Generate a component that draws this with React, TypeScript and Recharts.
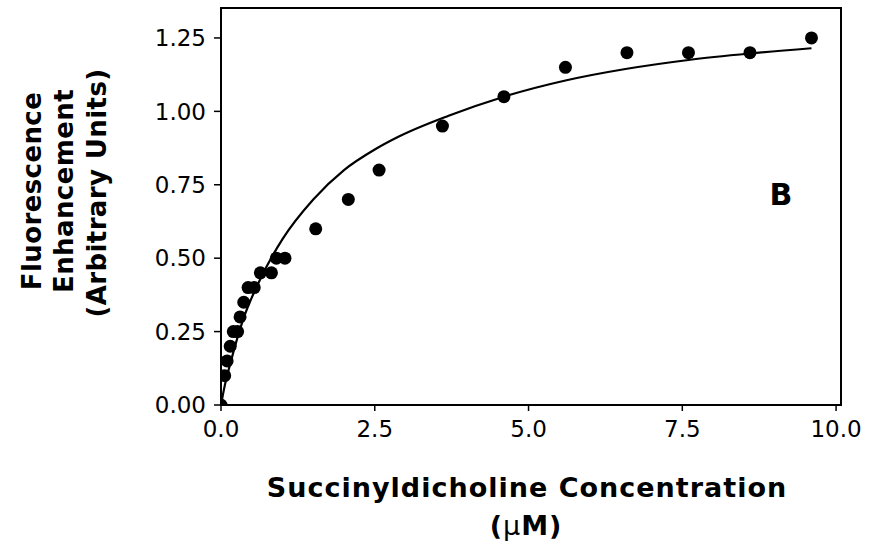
import React from "react";
import {
  ComposedChart,
  Line,
  Scatter,
  XAxis,
  YAxis,
  ReferenceArea,
} from "recharts";

// Measured points
const concentration = [0, 0.06, 0.1, 0.15, 0.2, 0.27, 0.31, 0.37, 0.44, 0.54, 0.64, 0.82, 0.9, 1.04, 1.54, 2.07, 2.57, 3.6, 4.6, 5.6, 6.6, 7.6, 8.6, 9.6];
const enhancement = [0, 0.1, 0.15, 0.2, 0.25, 0.25, 0.3, 0.35, 0.4, 0.4, 0.45, 0.45, 0.5, 0.5, 0.6, 0.7, 0.8, 0.95, 1.05, 1.15, 1.2, 1.2, 1.2, 1.25];

// Fitted curve
const fitX = [0, 0.05, 0.15, 0.35, 0.63, 1.0, 1.5, 2.0, 2.5, 2.9, 3.7, 4.6, 5.6, 6.6, 7.6, 8.6, 9.6];
const fitY = [0, 0.055, 0.14, 0.285, 0.425, 0.565, 0.7, 0.8, 0.87, 0.915, 0.985, 1.05, 1.105, 1.145, 1.175, 1.197, 1.215];

const xTicks = [0, 2.5, 5, 7.5, 10];
const yTicks = [0, 0.25, 0.5, 0.75, 1.0, 1.25];

const X_MAX = 10.08;
const Y_MAX = 1.352;

const points = concentration.map((x, i) => ({ x, y: enhancement[i] }));
const fit = fitX.map((x, i) => ({ x, y: fitY[i] }));

const FONT = "'DejaVu Sans', sans-serif";

const Dot = (p: any) => <circle cx={p.cx} cy={p.cy} r={6.5} fill="#000" />;

const YTitle = () => (
  <g fontFamily={FONT} fontWeight="bold" fontSize={26} fill="#000" letterSpacing={0.4}>
    <text x={41} y={191} textAnchor="middle" transform="rotate(-90, 41, 191)">
      Fluorescence
    </text>
    <text x={73} y={191} textAnchor="middle" transform="rotate(-90, 73, 191)">
      Enhancement
    </text>
    <text x={106} y={193} textAnchor="middle" transform="rotate(-90, 106, 193)">
      (Arbitrary Units)
    </text>
  </g>
);

const XTitle = () => (
  <g fontFamily={FONT} fontWeight="bold" fontSize={27} fill="#000" letterSpacing={1}>
    <text x={527} y={497} textAnchor="middle">
      Succinyldicholine Concentration
    </text>
    <text x={526} y={535} textAnchor="middle">
      (<tspan fontWeight="normal">µ</tspan>M)
    </text>
  </g>
);

export default function App() {
  return (
    <div style={{ position: "absolute", left: 0, top: 0, background: "#fff" }}>
      <ComposedChart
        width={871}
        height={552}
        margin={{ top: 8, right: 30, bottom: 0, left: 0 }}
      >
        <XAxis
          type="number"
          dataKey="x"
          domain={[0, X_MAX]}
          ticks={xTicks}
          tickFormatter={(v: number) => v.toFixed(1)}
          height={147}
          tickSize={6}
          tickMargin={10}
          axisLine={{ stroke: "#000", strokeWidth: 2 }}
          tickLine={{ stroke: "#000", strokeWidth: 1.5 }}
          tick={{ fill: "#000", fontSize: 23, fontFamily: FONT }}
          allowDataOverflow
          label={{ content: () => <XTitle /> }}
        />
        <YAxis
          type="number"
          dataKey="y"
          domain={[0, Y_MAX]}
          ticks={yTicks}
          tickFormatter={(v: number) => v.toFixed(2)}
          width={221}
          tickSize={7}
          tickMargin={8}
          axisLine={{ stroke: "#000", strokeWidth: 2 }}
          tickLine={{ stroke: "#000", strokeWidth: 1.5 }}
          tick={{ fill: "#000", fontSize: 23, fontFamily: FONT }}
          allowDataOverflow
          label={{ content: () => <YTitle /> }}
        />
        <ReferenceArea
          x1={0}
          x2={X_MAX}
          y1={0}
          y2={Y_MAX}
          fill="none"
          stroke="#000"
          strokeWidth={2}
          ifOverflow="visible"
        />
        <Line
          data={fit}
          dataKey="y"
          type="monotone"
          stroke="#000"
          strokeWidth={2.2}
          dot={false}
          activeDot={false}
          isAnimationActive={false}
        />
        <Scatter
          data={points}
          dataKey="y"
          fill="#000"
          shape={Dot}
          isAnimationActive={false}
        />
        <text
          x={781}
          y={205}
          textAnchor="middle"
          fontFamily={FONT}
          fontWeight="bold"
          fontSize={30}
          fill="#000"
        >
          B
        </text>
      </ComposedChart>
    </div>
  );
}
